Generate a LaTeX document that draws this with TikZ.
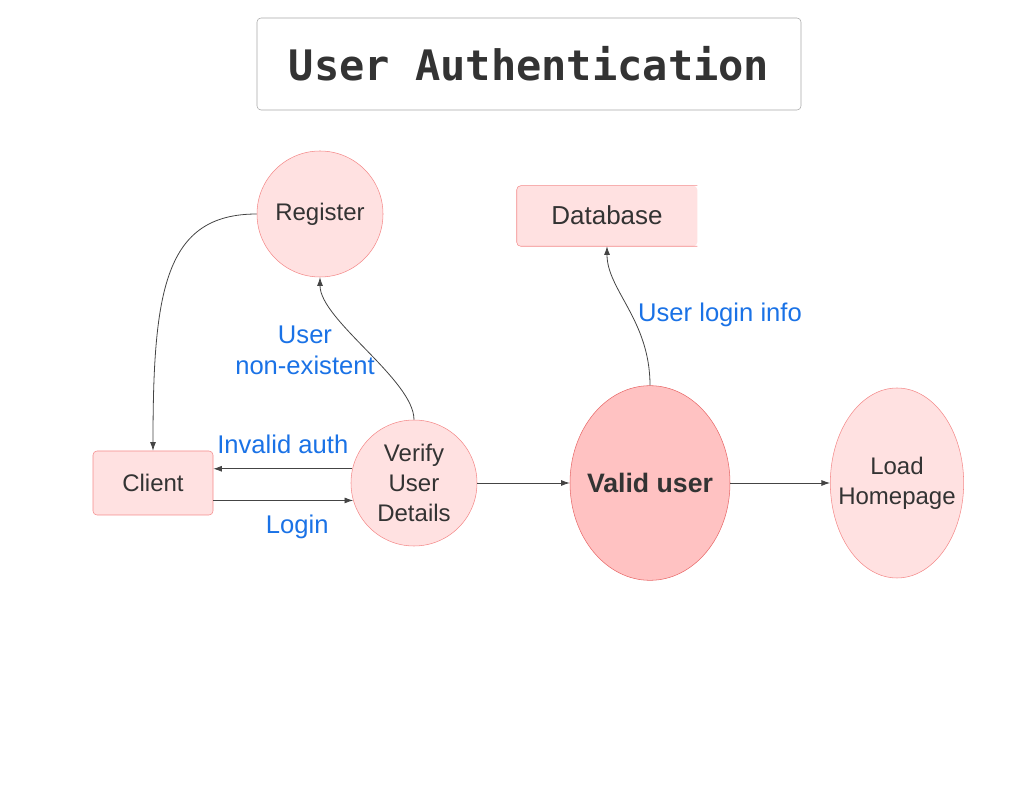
\documentclass[tikz,border=0pt]{standalone}
\usepackage{fontspec}
\setmainfont{Liberation Sans}
\newfontfamily\titlefont{DejaVu Sans Mono}
\usetikzlibrary{shapes.geometric, arrows.meta, positioning, backgrounds}
\definecolor{ink}{HTML}{333333}
\definecolor{pinkfill}{HTML}{FFE1E1}
\definecolor{pinkline}{HTML}{F48A8A}
\definecolor{validfill}{HTML}{FFC2C2}
\definecolor{validline}{HTML}{E86A6A}
\definecolor{labelblue}{HTML}{1A72E6}
\definecolor{wire}{HTML}{444444}

\begin{document}
\begin{tikzpicture}[x=0.75pt, y=0.75pt,
    proc/.style={circle, draw=pinkline, fill=pinkfill, minimum size=94.5pt, inner sep=0pt,
                 align=center, text=ink, font=\fontsize{18}{22.3}\selectfont},
    ent/.style={rectangle, rounded corners=3pt, draw=pinkline, fill=pinkfill, align=center,
                text=ink, font=\fontsize{18}{22.3}\selectfont},
    oval/.style={ellipse, draw=pinkline, fill=pinkfill, inner sep=0pt},
    ovaltext/.style={align=center, text=ink, font=\fontsize{18}{22.3}\selectfont},
    lbl/.style={text=labelblue, align=center, font=\fontsize{19.2}{23.3}\selectfont},
    arr/.style={draw=wire, line width=0.6pt, -{Latex[length=6.5pt, width=4.5pt]}}]
    \useasboundingbox (0,0) rectangle (1022,790);

    % Title
    \node[rectangle, rounded corners=3pt, draw=gray!70, minimum width=408pt, minimum height=69pt,
          text=ink, font=\titlefont\bfseries\fontsize{31.5}{36}\selectfont] (title) at (529, 726) {User Authentication};

    % Entities
    \node[ent, minimum width=90pt, minimum height=48pt] (client) at (153, 307) {Client};
    \node[rectangle, minimum width=135pt, minimum height=45pt, text=ink,
          font=\fontsize{19.5}{23}\selectfont] (db) at (607, 574) {\raisebox{2pt}{Database}};
    \begin{scope}[on background layer]
        \fill[pinkfill, rounded corners=3pt] (db.north east) -- (db.north west) -- (db.south west) -- (db.south east) -- cycle;
        \draw[pinkline, rounded corners=3pt] (db.north east) -- (db.north west) -- (db.south west) -- (db.south east);
    \end{scope}

    % Processes
    \node[proc] (register) at (320, 576) {Register};
    \node[proc] (verify) at (414, 307) {Verify\\User\\Details};
    \node[oval, draw=validline, fill=validfill, minimum width=120pt, minimum height=146pt,
          label={[ovaltext, font=\bfseries\fontsize{20}{24}\selectfont]center:Valid user}] (valid) at (650, 307) {};
    \node[oval, minimum width=100pt, minimum height=142.5pt,
          label={[ovaltext]center:Load\\Homepage}] (load) at (897, 307) {};

    % Arrows
    \draw[arr] (client.east |- verify.196) -- node[lbl, below=7pt, pos=0.6]{Login} (verify.196);
    \draw[arr] (verify.167) -- node[lbl, above=8pt]{Invalid auth} (client.east |- verify.167);
    \draw[arr] (verify.north) .. controls (414, 410) and (320, 470) .. (register.south);
    \node[lbl] (nonexist) at (305, 440) {User\\non-existent};
    \draw[arr] (register.west) .. controls (165, 576) and (153, 500) .. (client.north);
    \draw[arr] (verify.east) -- (valid.west);
    \draw[arr] (valid.east) -- (load.west);
    \draw[arr] (valid.north) .. controls (650, 470) and (607, 500) .. (db.south);
    \node[lbl] (logininfo) at (720, 475) {User login info};
\end{tikzpicture}
\end{document}
